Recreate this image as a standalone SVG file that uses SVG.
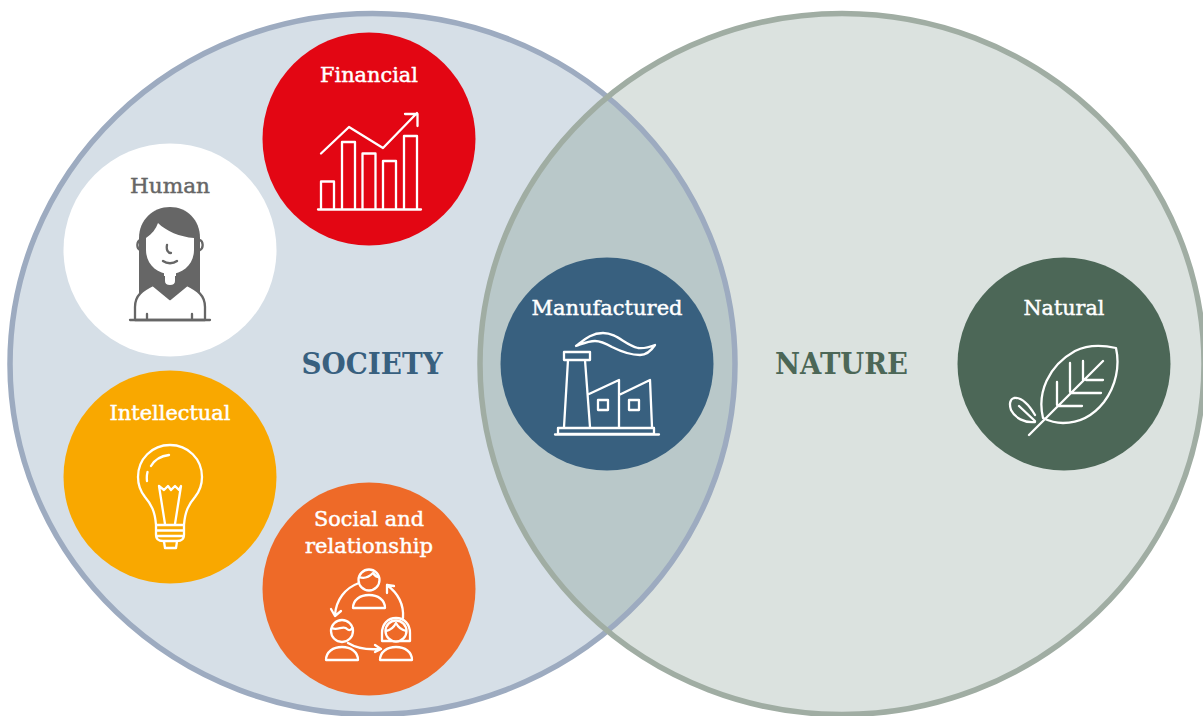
<svg xmlns="http://www.w3.org/2000/svg" width="1203" height="716" viewBox="0 0 1203 716">
<defs><clipPath id="lensClip"><ellipse cx="372.500" cy="364" rx="362.500" ry="350.500"/></clipPath></defs>
<style>
text{font-family:"DejaVu Serif","Liberation Serif",serif;text-anchor:middle}
.label{font-size:20px;font-weight:400;fill:#fff;stroke:#fff;stroke-width:.45}
.dark{fill:#666;stroke:#666}
.big{font-size:30px;font-weight:700}
.ico{fill:none;stroke:#fff;stroke-width:2.300;stroke-linecap:round;stroke-linejoin:round}
.icg{fill:none;stroke:#666;stroke-width:2.300;stroke-linecap:round;stroke-linejoin:round}
</style>
<rect width="1203" height="716" fill="#fff"/>
<g id="society"><ellipse cx="372.500" cy="364" rx="362.500" ry="350.500" fill="#d6dfe7"/></g>
<g id="nature"><ellipse cx="842" cy="364" rx="362" ry="350.500" fill="#dbe2df"/></g>
<g id="overlap"><ellipse cx="842" cy="364" rx="362" ry="350.500" fill="#b9c8c9" clip-path="url(#lensClip)"/></g>
<g id="rings" fill="none" stroke-width="5.500">
<ellipse cx="372.500" cy="364" rx="362.500" ry="350.500" stroke="#9dabc0"/>
<ellipse cx="842" cy="364" rx="362" ry="350.500" stroke="#a0ada3"/>
</g>
<text class="big" x="372" y="374" fill="#38607f" textLength="141" lengthAdjust="spacingAndGlyphs">SOCIETY</text>
<text class="big" x="841.500" y="374" fill="#4c6757" textLength="133" lengthAdjust="spacingAndGlyphs">NATURE</text>

<g id="financial">
<circle cx="369" cy="139" r="106.500" fill="#e30613"/>
<text class="label" x="369" y="81.500" textLength="98" lengthAdjust="spacingAndGlyphs">Financial</text>
<path class="ico" d="M321 153.500L349 127L383 148L417 113M405 114H417.500V126"/>
<path class="ico" d="M321 209V181.500H334V209M342 209V142H355V209M362.500 209V153.500H375.500V209M383 209V161H396V209M404 209V136H417V209M318 209.500H421"/>
</g>
<g id="human">
<circle cx="170" cy="250" r="106.500" fill="#fff"/>
<text class="label dark" x="170" y="192.500" textLength="80" lengthAdjust="spacingAndGlyphs">Human</text>
<path d="M139 300V238C139 220 153 207 170 207C187 207 200 220 200 238V300Z" fill="#666"/>
<path d="M146 238C152 234 156 229 158 223C166 231 180 237 194 238V250C194 264 183 274 170 274C157 274 146 264 146 250Z" fill="#fff"/>
<path class="icg" d="M140 240C137 241 136 248 140 250M200 240C203 241 204 248 200 250M167 245C166 250 168 253 171 253M163 261C167 264 173 264 177 261"/>
<path d="M164 272V281C164 285 167 286 170 286C173 286 176 285 176 281V272Z" fill="#fff"/>
<path d="M164 276V281C164 285 167 286 170 286C173 286 176 285 176 281V276" fill="none" stroke="#666" stroke-width="2"/>
<path class="icg" style="fill:#fff" d="M153 285L170 299L187 285C197 290 205 295 205 307V320H135V307C135 295 143 290 153 285Z"/>
<path class="icg" d="M130 320H210M147 314V320M192 314V320"/>
</g>
<g id="intellectual">
<circle cx="170" cy="477" r="106.500" fill="#f9a800"/>
<text class="label" x="170" y="419.500" textLength="121" lengthAdjust="spacingAndGlyphs">Intellectual</text>
<path class="ico" d="M156 525C155 511 151 504 145 497C141 492 138 484 138 477C138 459 152 445 170 445C188 445 202 459 202 477C202 484 199 492 195 497C189 504 185 511 184 525V535C184 539 181 541 177 541H163C159 541 156 539 156 535ZM156 525H184M156 530.500H184M156 536H184M164 541.500L165 548H176L177 541.500M165 524L159 486L164 490L168 486L171 490L175 486L179 490L181 486L175 524M147 481C146.500 477 147 474 147.500 472M151 466C155 459 161 456 169 455"/>
</g>
<g id="social">
<circle cx="369" cy="589" r="106.500" fill="#ee6a28"/>
<text class="label" x="369" y="525.500" textLength="110" lengthAdjust="spacingAndGlyphs">Social and</text>
<text class="label" x="369" y="552.500" textLength="128" lengthAdjust="spacingAndGlyphs">relationship</text>
<g class="ico">
<circle cx="369" cy="580" r="10.500"/>
<path d="M359 577C364 579 369 577 373 573C375 576 377 577 379 577M353 608C353 600 360 595 369 595C378 595 385 600 385 608Z"/>
<circle cx="342" cy="631" r="11"/>
<path d="M332 628C337 631 344 625 347 629C349 631 351 630 352.500 628M326 660C326 652 333 647 342 647C351 647 358 652 358 660Z"/>
<path d="M382 641V633C382 624 388 618 396 618C404 618 410 624 410 633V641Z"/>
<circle cx="396" cy="631" r="10.500" fill="#ee6a28"/>
<path d="M386 631C391 630 394 627 396 623C398 627 402 630 406 631M380 660C380 652 387 647 396 647C405 647 412 652 412 660Z"/>
<path d="M359 583C345 588 336 600 335 615M331 609L335 616L341 611M348 643C356 648 367 650 380 649M375 645L381 649L375 652M403 618C404 604 399 594 387 585M387 593L387 585L394 586"/>
</g>
</g>
<g id="manufactured">
<circle cx="607" cy="364" r="106.500" fill="#38607f"/>
<text class="label" x="607" y="314.500" textLength="151" lengthAdjust="spacingAndGlyphs">Manufactured</text>
<path class="ico" d="M564 352H590V360H564ZM568 360L564 427M585 360L590 427M589 394L619 380V427M619 395L650 380L652 427M598 400H608V410H598ZM629 400H639V410H629ZM558 428H654V434H558ZM555 434.500H659M576 346C584 340 591 333 603 333C617 333 625 345 638 348C645 349 650 347 655 345C651 351 647 355 640 355C630 355 622 352 612 347C605 343 600 341 595 341C588 341 582 344 576 346Z"/>
</g>
<g id="natural">
<circle cx="1064" cy="364" r="106.500" fill="#4c6757"/>
<text class="label" x="1064" y="314.500" textLength="81" lengthAdjust="spacingAndGlyphs">Natural</text>
<path class="ico" d="M1043 418C1037 393 1048 366 1075 351C1087 345 1103 345 1116 348C1120 366 1116 386 1104 402C1093 416 1078 423 1063 423C1056 423 1049 421 1043 418ZM1029 435L1103 361M1070 363V392M1083 361V380M1057 382V405M1086 380H1103M1072 393H1101M1059 406H1082M1035 415C1029 405 1021 397 1014 398C1010 399 1009 404 1011 410C1015 418 1024 423 1035 422M1019 406L1035 421"/>
</g>
</svg>
